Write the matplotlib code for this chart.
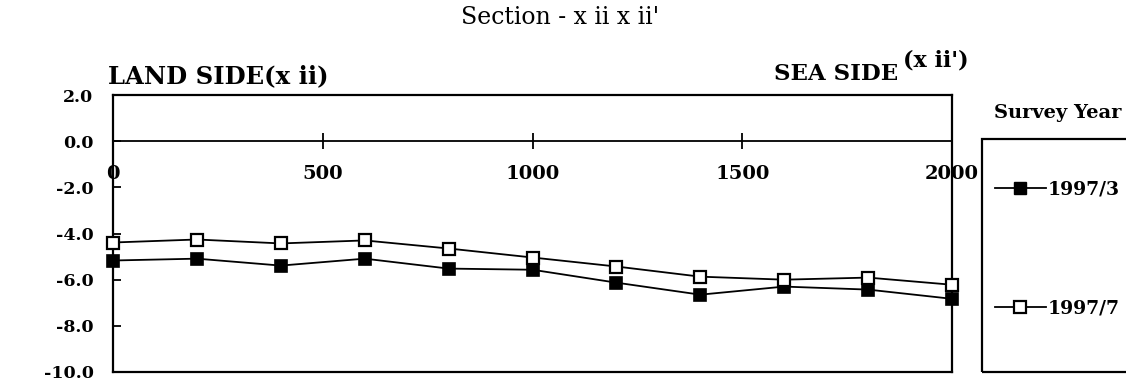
import matplotlib
matplotlib.use("Agg")
import matplotlib.pyplot as plt
from matplotlib.patches import Rectangle
from matplotlib.lines import Line2D

distance = [0, 200, 400, 600, 800, 1000, 1200, 1400, 1600, 1800, 2000]
depth_1997_3 = [-5.17, -5.09, -5.39, -5.09, -5.52, -5.57, -6.13, -6.65, -6.30, -6.43, -6.83]
depth_1997_7 = [-4.39, -4.26, -4.43, -4.30, -4.65, -5.04, -5.43, -5.87, -6.00, -5.91, -6.22]
series_labels = ["1997/3", "1997/7"]
x_ticks = [0, 500, 1000, 1500, 2000]
y_ticks = [2.0, 0.0, -2.0, -4.0, -6.0, -8.0, -10.0]

plt.rcParams['font.family'] = ['DejaVu Serif']

W, H = 1126, 383
fig = plt.figure(figsize=(W / 100, H / 100), dpi=100)
L, R, T, B = 113, 952, 95, 372
ax = fig.add_axes([L / W, 1 - B / H, (R - L) / W, (B - T) / H])

ax.set_xlim(0, 2000)
ax.set_ylim(-10, 2)

lw = 1.3
ax.plot(distance, depth_1997_3, color='black', lw=lw, marker='s', ms=8,
        mfc='black', mec='black', mew=1.2, clip_on=False, zorder=5)
ax.plot(distance, depth_1997_7, color='black', lw=lw, marker='s', ms=8,
        mfc='white', mec='black', mew=1.6, clip_on=False, zorder=6)

for s in ax.spines.values():
    s.set_linewidth(1.6)
ax.spines['bottom'].set_position(('data', 0))
ax.spines['bottom'].set_linewidth(1.3)
# bottom frame line
ax.plot([0, 1], [0, 0], transform=ax.transAxes, color='black', lw=1.6, clip_on=False)

ax.set_xticks(x_ticks)
ax.set_xticklabels([str(v) for v in x_ticks])
ax.tick_params(axis='x', direction='inout', length=12, width=1.3, pad=11,
               labelsize=14)
ax.set_yticks(y_ticks)
ax.set_yticklabels([f"{v:.1f}" for v in y_ticks])
ax.tick_params(axis='y', direction='in', length=6, width=1.3, pad=14,
               labelsize=12.5)
for lab in ax.get_xticklabels() + ax.get_yticklabels():
    lab.set_fontweight('bold')

ax.set_ylabel("Depth(m)", fontsize=15)
ax.yaxis.label.set_transform(fig.transFigure)
ax.yaxis.label.set_position((25 / W, 1 - 240 / H))

fig.text(560 / W, 1 - 17 / H, "Section - x ii x ii'", ha='center', va='center',
         fontsize=17)
fig.text(108 / W, 1 - 76 / H, "LAND SIDE(x ii)", ha='left', va='center',
         fontsize=17.5, fontweight='bold')
fig.text(898 / W, 1 - 74 / H, "SEA SIDE", ha='right', va='center',
         fontsize=16.5, fontweight='bold')
fig.text(903 / W, 1 - 61 / H, "(x ii')", ha='left', va='center',
         fontsize=16, fontweight='bold')

# legend
fig.text(1121 / W, 1 - 113 / H, "Survey Year", ha='right', va='center',
         fontsize=14, fontweight='bold')
fig.patches.append(Rectangle((982 / W, 1 - 372 / H), 0.2, (372 - 139) / H,
                             transform=fig.transFigure, fill=False,
                             edgecolor='black', lw=1.6))
handles = [
    Line2D([], [], color='black', lw=lw, marker='s', ms=8, mfc='black', mec='black'),
    Line2D([], [], color='black', lw=lw, marker='s', ms=8, mfc='white', mec='black', mew=1.6),
]
leg = fig.legend(handles, series_labels, loc='center left',
                 bbox_to_anchor=(995 / W, 1 - 249 / H), frameon=False,
                 fontsize=13.5, labelspacing=5.4, handlelength=2.7,
                 handletextpad=0.1, borderpad=0, borderaxespad=0)
for t in leg.get_texts():
    t.set_fontweight('bold')

fig.savefig("out.png", dpi=100)
